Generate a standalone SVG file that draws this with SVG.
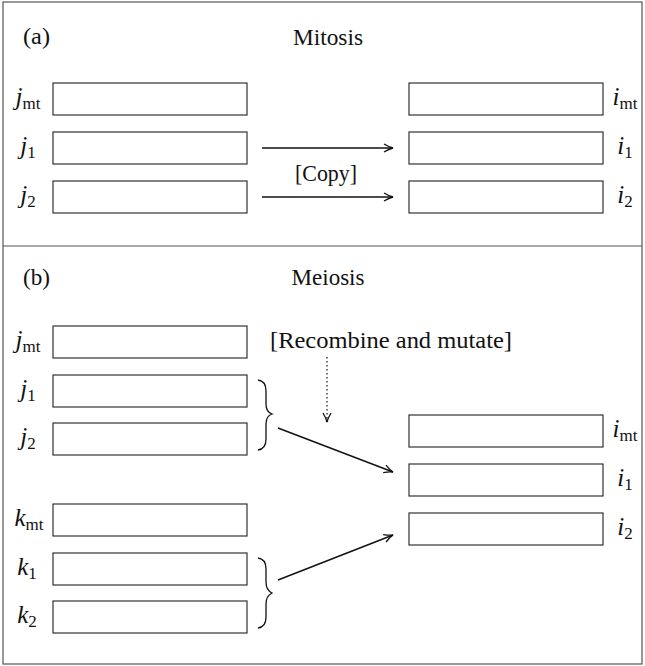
<svg xmlns="http://www.w3.org/2000/svg" width="645" height="666" viewBox="0 0 645 666">
<style>
text{font-family:"Liberation Serif","DejaVu Serif",serif;fill:#111}
.t{font-size:24px}
.lab{font-size:25px}
.it{font-style:italic}
.sub{font-size:17px}
.box{fill:#fff;stroke:#333;stroke-width:1.2}
.frame{fill:none;stroke:#555;stroke-width:1.2}
.ar{fill:none;stroke:#111;stroke-width:1.4}
.br{fill:none;stroke:#111;stroke-width:1.3}
</style>
<defs>
<marker id="ah" viewBox="-10 -6 12 12" refX="0" refY="0" markerWidth="12" markerHeight="12" markerUnits="userSpaceOnUse" orient="auto">
<path d="M-9,-4 Q-4,-1 0,0 Q-4,1 -9,4" fill="none" stroke="#111" stroke-width="1.3"/>
</marker>
</defs>
<rect class="frame" x="3" y="2" width="639" height="662"/>
<line class="frame" x1="3" y1="246" x2="642" y2="246"/>

<g id="panel-a-titles">
<text class="t" x="23" y="44" textLength="27" lengthAdjust="spacingAndGlyphs">(a)</text>
<text class="t" x="328" y="45" text-anchor="middle" textLength="70" lengthAdjust="spacingAndGlyphs">Mitosis</text>
<text class="t" x="326" y="181" text-anchor="middle" textLength="62" lengthAdjust="spacingAndGlyphs">[Copy]</text>
</g>

<g id="a-jmt"><rect class="box" x="53" y="83" width="194" height="32"/><text class="lab" x="28" y="105" text-anchor="middle"><tspan class="it">j</tspan><tspan class="sub" dy="4">mt</tspan></text></g>
<g id="a-j1"><rect class="box" x="53" y="132" width="194" height="32"/><text class="lab" x="28" y="154" text-anchor="middle"><tspan class="it">j</tspan><tspan class="sub" dy="4">1</tspan></text></g>
<g id="a-j2"><rect class="box" x="53" y="181" width="194" height="32"/><text class="lab" x="28" y="203" text-anchor="middle"><tspan class="it">j</tspan><tspan class="sub" dy="4">2</tspan></text></g>
<g id="a-imt"><rect class="box" x="409" y="83" width="194" height="32"/><text class="lab" x="625" y="105" text-anchor="middle"><tspan class="it">i</tspan><tspan class="sub" dy="4">mt</tspan></text></g>
<g id="a-i1"><rect class="box" x="409" y="132" width="194" height="32"/><text class="lab" x="625" y="154" text-anchor="middle"><tspan class="it">i</tspan><tspan class="sub" dy="4">1</tspan></text></g>
<g id="a-i2"><rect class="box" x="409" y="181" width="194" height="32"/><text class="lab" x="625" y="203" text-anchor="middle"><tspan class="it">i</tspan><tspan class="sub" dy="4">2</tspan></text></g>

<g id="panel-b-titles">
<text class="t" x="23" y="285" textLength="27" lengthAdjust="spacingAndGlyphs">(b)</text>
<text class="t" x="328" y="285" text-anchor="middle" textLength="73" lengthAdjust="spacingAndGlyphs">Meiosis</text>
<text class="t" x="391" y="348" text-anchor="middle" textLength="242" lengthAdjust="spacingAndGlyphs">[Recombine and mutate]</text>
</g>

<g id="b-jmt"><rect class="box" x="53" y="326" width="194" height="32"/><text class="lab" x="28" y="348" text-anchor="middle"><tspan class="it">j</tspan><tspan class="sub" dy="4">mt</tspan></text></g>
<g id="b-j1"><rect class="box" x="53" y="375" width="194" height="32"/><text class="lab" x="28" y="397" text-anchor="middle"><tspan class="it">j</tspan><tspan class="sub" dy="4">1</tspan></text></g>
<g id="b-j2"><rect class="box" x="53" y="423" width="194" height="32"/><text class="lab" x="28" y="445" text-anchor="middle"><tspan class="it">j</tspan><tspan class="sub" dy="4">2</tspan></text></g>
<g id="b-kmt"><rect class="box" x="53" y="504" width="194" height="32"/><text class="lab" x="29" y="526" text-anchor="middle"><tspan class="it">k</tspan><tspan class="sub" dy="4">mt</tspan></text></g>
<g id="b-k1"><rect class="box" x="53" y="553" width="194" height="32"/><text class="lab" x="27" y="575" text-anchor="middle"><tspan class="it">k</tspan><tspan class="sub" dy="4">1</tspan></text></g>
<g id="b-k2"><rect class="box" x="53" y="601" width="194" height="32"/><text class="lab" x="27" y="623" text-anchor="middle"><tspan class="it">k</tspan><tspan class="sub" dy="4">2</tspan></text></g>
<g id="b-imt"><rect class="box" x="409" y="415" width="194" height="32"/><text class="lab" x="625" y="437" text-anchor="middle"><tspan class="it">i</tspan><tspan class="sub" dy="4">mt</tspan></text></g>
<g id="b-i1"><rect class="box" x="409" y="464" width="194" height="32"/><text class="lab" x="625" y="486" text-anchor="middle"><tspan class="it">i</tspan><tspan class="sub" dy="4">1</tspan></text></g>
<g id="b-i2"><rect class="box" x="409" y="513" width="194" height="32"/><text class="lab" x="625" y="535" text-anchor="middle"><tspan class="it">i</tspan><tspan class="sub" dy="4">2</tspan></text></g>

<g id="braces">
<path class="br" d="M258,380 Q266,381 266,391 L266,404 Q266,412 272,414 Q266,416 266,424 L266,439 Q266,449 258,450"/>
<path class="br" d="M258,558 Q266,559 266,569 L266,582 Q266,590 272,593 Q266,596 266,604 L266,617 Q266,627 258,628"/>
</g>

<g id="connectors">
<line class="ar" x1="262" y1="148" x2="393" y2="148" marker-end="url(#ah)"/>
<line class="ar" x1="262" y1="197" x2="393" y2="197" marker-end="url(#ah)"/>
<line class="ar" x1="278" y1="428" x2="393" y2="472" marker-end="url(#ah)"/>
<line class="ar" x1="278" y1="580" x2="393" y2="535" marker-end="url(#ah)"/>
<line x1="327" y1="357" x2="327" y2="422" stroke="#111" stroke-width="1.2" stroke-dasharray="1.5,2.5" marker-end="url(#ah)"/>
</g>
</svg>
